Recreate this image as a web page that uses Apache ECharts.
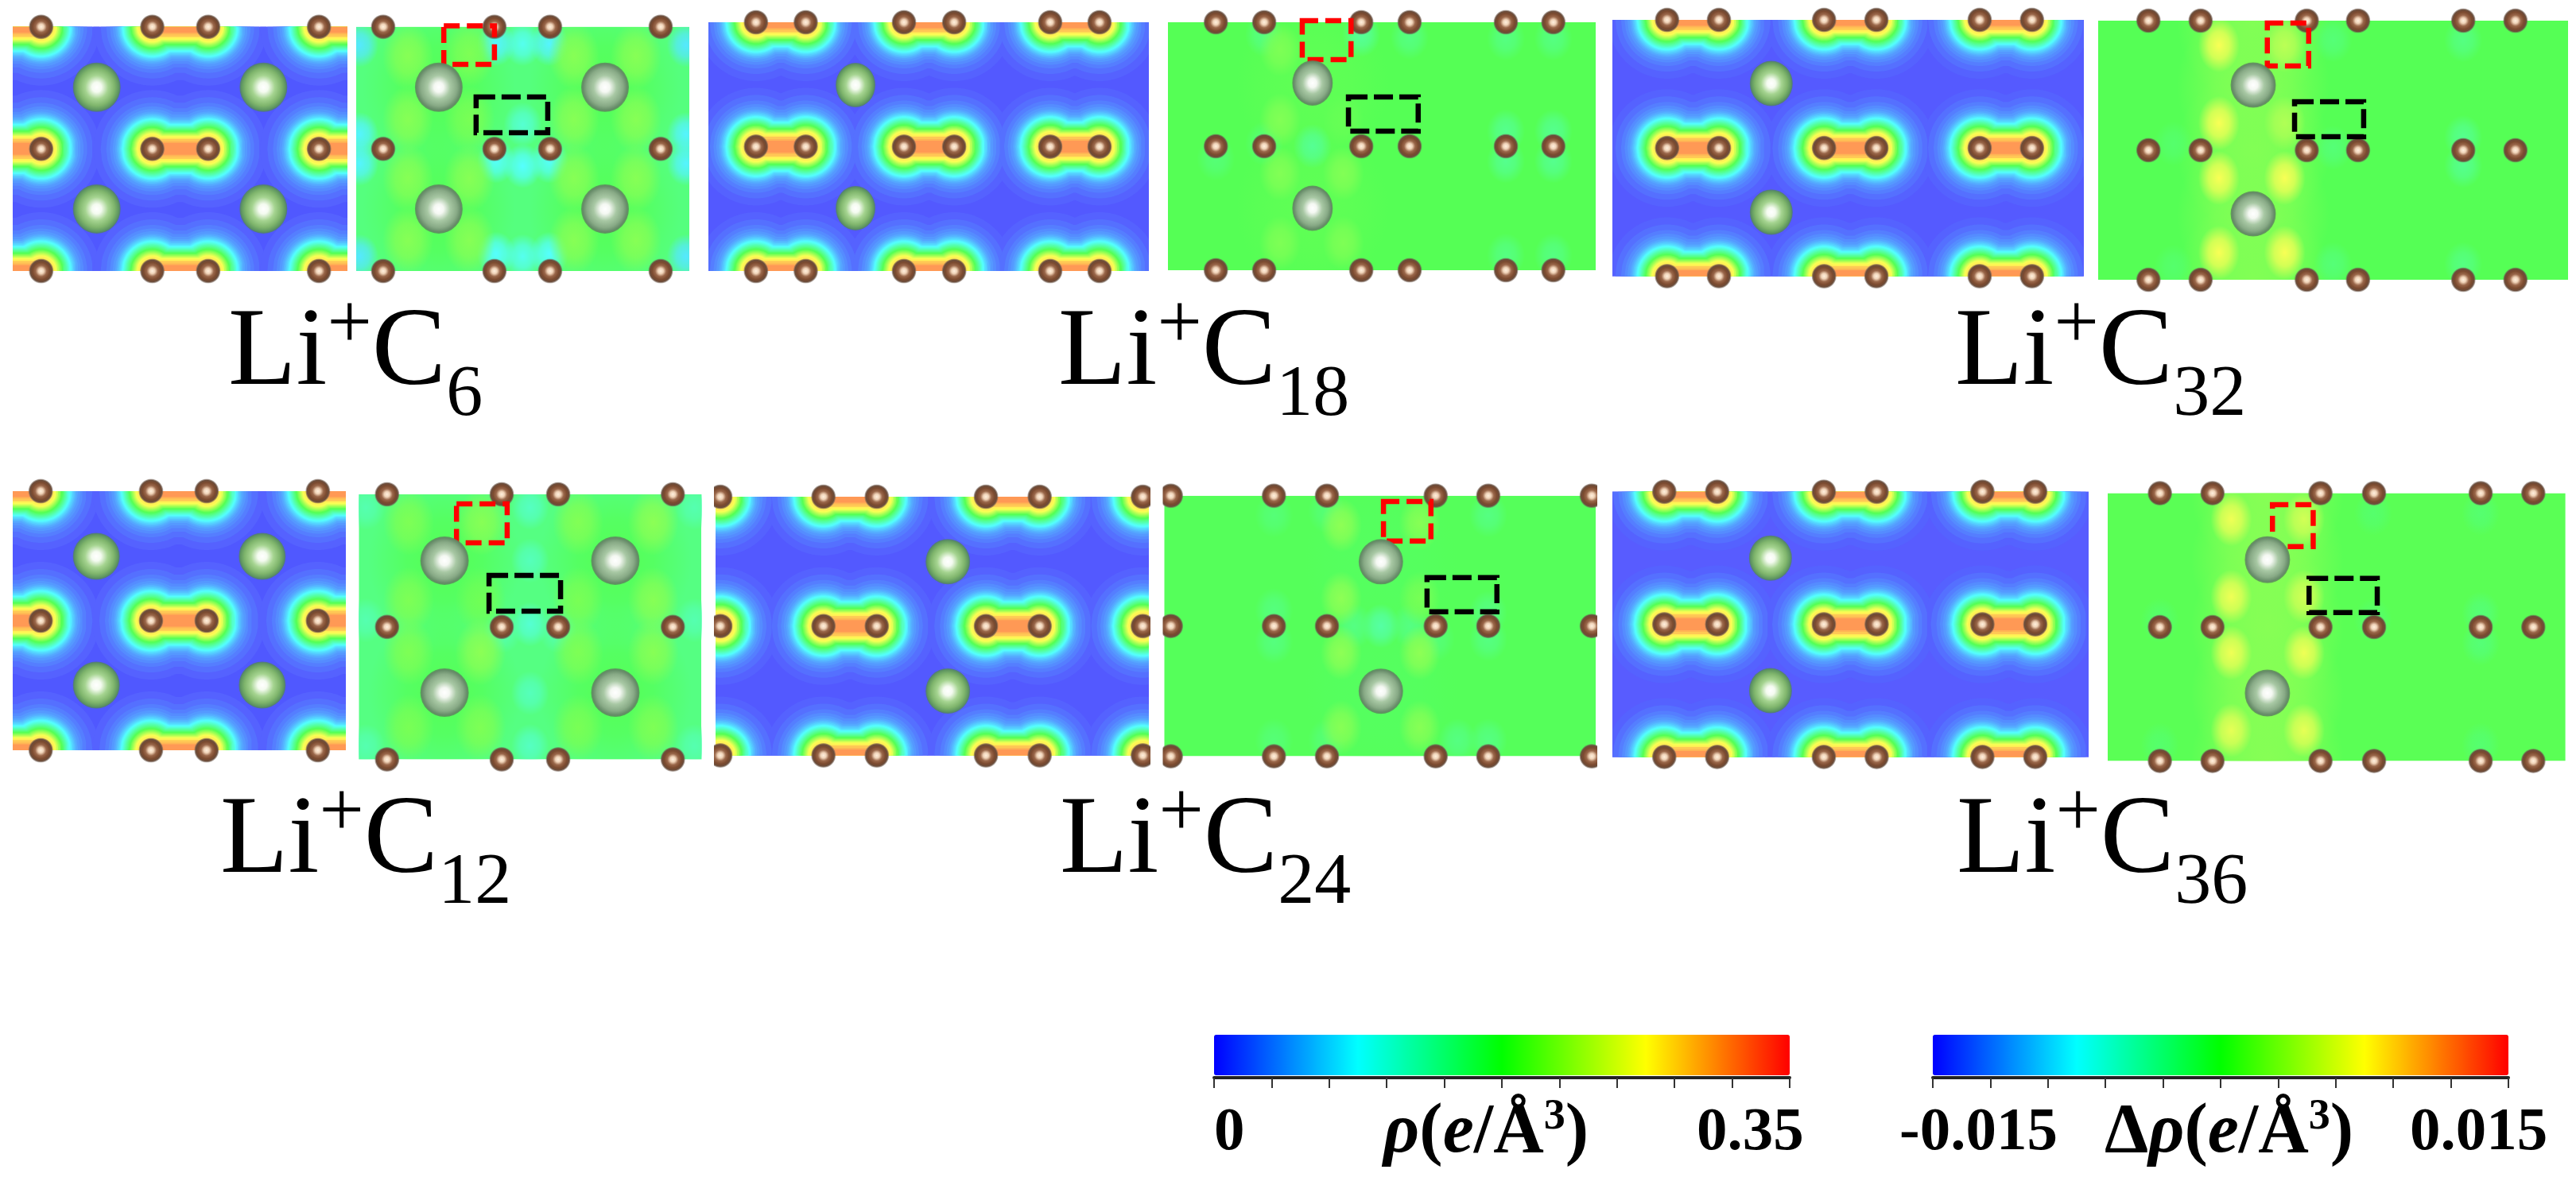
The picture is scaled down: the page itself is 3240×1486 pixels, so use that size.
<!DOCTYPE html>
<html>
<head>
<meta charset="utf-8">
<title>Li+Cx charge density</title>
<script src="https://cdn.jsdelivr.net/npm/echarts@6/dist/echarts.min.js"></script>
<style>
  html, body { margin: 0; padding: 0; background: #fff; }
  #main { width: 3240px; height: 1486px; }
</style>
</head>
<body>
<div id="main"></div>
<script>
// x axis of every panel is percent of the panel width, y axis counts graphene layers (0, 1, 2)
const carbonRows = [2, 1, 0]

// rho levels (e/A^3) drawn as contours around each C-C bond
const rhoLevels = [0.007, 0.014, 0.021, 0.028, 0.035, 0.042, 0.049, 0.056, 0.063, 0.07, 0.077, 0.084, 0.091, 0.098, 0.105, 0.112, 0.119, 0.126, 0.133, 0.14, 0.147, 0.154, 0.161, 0.168, 0.175, 0.1855, 0.196, 0.2065, 0.217, 0.2275, 0.238, 0.2485, 0.259, 0.2695, 0.28, 0.2905, 0.301, 0.315]

const rhoCarbonC6 = [8.5, 41.7, 58.4, 91.5]
const rhoBondsC6 = [[-8.2, 8.5], [41.7, 58.4], [91.5, 108.2]]
const rhoLiC6 = [[25.1, 1.505], [74.9, 1.505], [25.1, 0.508], [74.9, 0.508]]

const rhoCarbonC18 = [10.8, 22.1, 44.4, 55.8, 77.6, 88.8]
const rhoBondsC18 = [[10.8, 22.1], [44.4, 55.8], [77.6, 88.8]]
const rhoLiC18 = [[33.4, 1.495], [33.4, 0.505]]

const rhoCarbonC32 = [11.6, 22.6, 44.9, 56.0, 77.9, 89.0]
const rhoBondsC32 = [[11.6, 22.6], [44.9, 56.0], [77.9, 89.0]]
const rhoLiC32 = [[33.7, 1.504], [33.7, 0.5]]

const rhoCarbonC12 = [8.4, 41.5, 58.2, 91.6]
const rhoBondsC12 = [[-8.2, 8.4], [41.5, 58.2], [91.6, 108.2]]
const rhoLiC12 = [[25.1, 1.497], [74.9, 1.497], [25.1, 0.503], [74.9, 0.503]]

const rhoCarbonC24 = [1.1, 24.9, 37.2, 62.4, 74.8, 98.6]
const rhoBondsC24 = [[-11.2, 1.1], [24.9, 37.2], [62.4, 74.8], [98.6, 110.9]]
const rhoLiC24 = [[53.6, 1.498], [53.6, 0.498]]

const rhoCarbonC36 = [10.9, 22.0, 44.4, 55.5, 77.7, 88.8]
const rhoBondsC36 = [[10.9, 22.0], [44.4, 55.5], [77.7, 88.8]]
const rhoLiC36 = [[33.2, 1.5], [33.2, 0.5]]

// delta rho: [x, y, value]
const deltaCarbonC6 = [8.1, 41.5, 58.2, 91.4]
const deltaLiC6 = [[24.8, 1.505], [74.7, 1.505], [24.8, 0.508], [74.7, 0.508]]
const deltaBandsC6 = [[24.8, 1.5, 0], [74.7, 1.5, 0], [24.8, 0.5, 0], [74.7, 0.5, 0]]
const deltaHolesC6 = [[50, 1.86, -0.0068], [58, 1.86, -0.008], [42, 1.86, -0.008], [1, 1.85, -0.0085], [99, 1.85, -0.0085], [1, 1.12, -0.008], [1, 0.88, -0.008], [99, 1.12, -0.008], [99, 0.88, -0.008], [50, 0.86, -0.0075], [42, 0.9, -0.0072], [58, 0.9, -0.0072], [50, 0.12, -0.0068], [42, 0.14, -0.0075], [58, 0.14, -0.0075], [1, 0.12, -0.0085], [99, 0.12, -0.0085], [50, 1.2, -0.0055]]
const deltaLobesC6 = [[15.5, 1.76, 0.0022], [34, 1.78, 0.0018], [15.5, 1.24, 0.0022], [34, 1.24, 0.0016], [65.4, 1.76, 0.0022], [84, 1.76, 0.0022], [65.4, 1.24, 0.0022], [84, 1.24, 0.0022], [15.5, 0.76, 0.0022], [34, 0.76, 0.0022], [15.5, 0.25, 0.0022], [34, 0.25, 0.0022], [65.4, 0.76, 0.0022], [84, 0.76, 0.0022], [65.4, 0.25, 0.0022], [84, 0.25, 0.0022]]

const deltaCarbonC18 = [11.2, 22.5, 45.2, 56.5, 79.0, 90.1]
const deltaLiC18 = [[33.8, 1.51], [33.8, 0.5]]
const deltaBandsC18 = [[33.8, 1.5, 0.0005], [33.8, 0.5, 0.0005]]
const deltaHolesC18 = [[33.8, 1, -0.0028], [79, 1.12, -0.0025], [90.1, 1.12, -0.0025], [79, 0.88, -0.0025], [90.1, 0.88, -0.0025], [79, 1.87, -0.002], [90.1, 1.87, -0.002], [79, 0.12, -0.002], [90.1, 0.12, -0.002], [45.2, 1.9, -0.003], [56.5, 1.88, -0.002], [22.5, 1.9, -0.002], [22.5, 1.02, -0.0015], [11.2, 0.9, -0.0015]]
const deltaLobesC18 = [[26.2, 1.78, 0.0018], [26.2, 1.21, 0.002], [41, 1.21, 0.0008], [26.2, 0.78, 0.002], [41, 0.78, 0.002], [26.2, 0.22, 0.0018], [41, 0.22, 0.0018]]

const deltaCarbonC32 = [10.7, 21.8, 44.4, 55.3, 77.7, 88.8]
const deltaLiC32 = [[33.0, 1.503], [33.0, 0.509]]
const deltaBandsC32 = [[33, 2, 0.002], [33, 1.5, 0.002], [33, 1, 0.002], [33, 0.5, 0.002], [33, 0, 0.002]]
const deltaHolesC32 = [[77.7, 1.85, -0.002], [77.7, 1.1, -0.0025], [77.7, 0.88, -0.0025], [77.7, 0.12, -0.002], [50, 1.85, -0.0015], [50, 1.02, -0.0015], [50, 0.12, -0.0015], [16, 1.05, -0.001], [16, 0.1, -0.001]]
const deltaLobesC32 = [[25.7, 1.81, 0.0072], [39.7, 1.81, 0.0045], [25.7, 1.21, 0.0072], [39.7, 1.21, 0.004], [25.7, 0.785, 0.0072], [39.7, 0.785, 0.0072], [25.7, 0.21, 0.0072], [39.7, 0.21, 0.0072]]

const deltaCarbonC12 = [8.2, 41.7, 58.2, 91.7]
const deltaLiC12 = [[25, 1.5], [74.9, 1.5], [25, 0.504], [74.9, 0.504]]
const deltaBandsC12 = [[25, 1.5, 0], [74.9, 1.5, 0], [25, 0.5, 0], [74.9, 0.5, 0]]
const deltaHolesC12 = [[50, 1.9, -0.0048], [50, 1.5, -0.0045], [50, 1.02, -0.0055], [50, 0.5, -0.0045], [50, 0.1, -0.0048], [42, 0.97, -0.0038], [58, 0.97, -0.0038], [2, 1.9, -0.004], [98, 1.9, -0.004], [2, 1.05, -0.004], [98, 1.05, -0.004], [2, 0.1, -0.004], [98, 0.1, -0.004]]
const deltaLobesC12 = [[14.5, 1.79, 0.0018], [35.9, 1.79, 0.0022], [14.5, 1.2, 0.0018], [35.5, 1.2, 0.0012], [64, 1.79, 0.002], [86, 1.79, 0.0024], [64, 1.2, 0.0016], [86, 1.2, 0.0022], [14.5, 0.81, 0.0018], [35.5, 0.81, 0.0024], [14.5, 0.24, 0.0016], [35.5, 0.24, 0.0018], [64, 0.81, 0.0018], [86, 0.81, 0.0022], [64, 0.24, 0.0016], [86, 0.24, 0.0018]]

const deltaCarbonC24 = [1.5, 25.4, 37.7, 62.9, 75.1, 99.1]
const deltaLiC24 = [[50.2, 1.493], [50.2, 0.5]]
const deltaBandsC24 = [[50.2, 1.5, -0.0005], [50.2, 0.5, -0.0005]]
const deltaHolesC24 = [[50.2, 1, -0.0035], [44, 1, -0.002], [57, 1, -0.002], [25.4, 0.88, -0.0018], [25.4, 1.12, -0.0018], [25.4, 1.85, -0.0015], [25.4, 0.12, -0.0015], [75.1, 1.85, -0.002], [75.1, 1.1, -0.002], [75.1, 0.9, -0.002], [75.1, 0.12, -0.002], [37.7, 1.88, -0.0015], [37.7, 0.12, -0.0015], [62.9, 0.9, -0.0015], [68, 0.12, -0.002]]
const deltaLobesC24 = [[41, 1.773, 0.0025], [59.2, 1.79, 0.0022], [41, 1.213, 0.0025], [59.2, 1.213, 0.0015], [41, 0.793, 0.0025], [59.2, 0.793, 0.0025], [41, 0.223, 0.0022], [59.2, 0.223, 0.0022]]

const deltaCarbonC36 = [11.4, 22.9, 46.5, 58.2, 81.5, 93.0]
const deltaLiC36 = [[34.9, 1.504], [34.9, 0.507]]
const deltaBandsC36 = [[34.9, 2, 0.0022], [34.9, 1.5, 0.0022], [34.9, 1, 0.0022], [34.9, 0.5, 0.0022], [34.9, 0, 0.0022]]
const deltaHolesC36 = [[81.5, 1.85, -0.0012], [81.5, 1.1, -0.0015], [81.5, 0.88, -0.0015], [81.5, 0.12, -0.0012], [58, 1.85, -0.001], [58, 1.05, -0.001], [11.4, 1.05, -0.001], [11.4, 0.12, -0.001]]
const deltaLobesC36 = [[27, 1.806, 0.0068], [42.9, 1.806, 0.0055], [27, 1.227, 0.0068], [42.9, 1.227, 0.0055], [27, 0.807, 0.0068], [42.9, 0.807, 0.0068], [27, 0.228, 0.0064], [42.9, 0.228, 0.0064]]

// dashed boxes: [x1, y1, x2, y2]
const redBoxes = [[26.3, 2.008, 41.5, 1.692], [31.4, 2.013, 42.8, 1.699], [36, 1.982, 44.8, 1.65], [28.5, 1.928, 43.3, 1.634], [50.8, 1.955, 61.8, 1.652], [36, 1.914, 44.9, 1.601]]
const blackBoxes = [[36, 1.425, 57.5, 1.132], [42.2, 1.397, 58.5, 1.122], [41.8, 1.374, 56.5, 1.104], [38, 1.388, 58.9, 1.119], [60.9, 1.371, 77.1, 1.109], [44, 1.364, 58.9, 1.109]]

// background delta rho of each panel
const deltaBase = [-0.0018, 0, 0, -0.002, -0.0002, 0.0002]

const systemSubs = ['6', '18', '32', '12', '24', '36']
const rhoRange = [0, 0.35]
const deltaRange = [-0.015, 0.015]
const rhoTickLabels = ['0', '0.35']
const deltaTickLabels = ['-0.015', '0.015']
const jetColors = ['#0000ff', '#00ffff', '#00ff00', '#ffff00', '#ff0000']

// ---- layout / styles ----
const rhoRects = [[16, 33.7, 437, 341], [891, 28, 1445, 341], [2028, 25, 2621, 347.5], [16, 618, 435, 944], [900, 625, 1445, 950.5], [2028, 618.7, 2627, 952.4]]
const deltaRects = [[448, 33.7, 867, 341], [1469, 28, 2007, 340], [2639, 26, 3230, 352], [451.5, 622, 882, 955.5], [1464.5, 623.7, 2007, 951.6], [2651, 620.6, 3226.6, 957.4]]
const rhoFloor = ['#5058ff', '#5359ff', '#555aff', '#5058ff', '#5359ff', '#585cff']
const rhoRadius = [74, 65, 58, 53.5, 50, 47, 45, 43.4, 42, 40.6, 39.5, 38.5, 37.5, 36.5, 35.6, 34.8, 34, 33.2, 32.4, 31.6, 30.8, 30, 29.2, 28.4, 27.6, 26.6, 25.6, 24.6, 23.6, 22.6, 21.6, 20.6, 19.6, 18.2, 15.5, 12.5, 9.5, 7.5]
const liSize = [[60, 62], [50, 56], [54, 57], [59, 59], [56, 57], [54, 57]]
const liSizeDelta = [[60, 62], [51, 57], [57, 57], [61, 61], [56, 57], [57, 59]]
// band, lobe, hole, wide lobe
const blobSize = [[96, 105], [26, 34], [24, 28], [32, 42]]
const labelPos = [[287, 446], [1331, 446], [2459, 446], [277, 1060], [1333, 1060], [2461, 1060]]
const serif = '"Liberation Serif", "Times New Roman", serif'

const wash = (c, a) => {
  const p = echarts.color.parse(c)
  const m = v => Math.round(v + (255 - v) / 3)
  return 'rgba(' + m(p[0]) + ',' + m(p[1]) + ',' + m(p[2]) + ',' + (a === undefined ? 1 : a) + ')'
}

const carbonFill = { type: 'radial', x: 0.5, y: 0.5, r: 0.5, colorStops: [
  { offset: 0, color: '#fff0de' }, { offset: 0.22, color: '#f0d3b8' }, { offset: 0.45, color: '#9a674a' },
  { offset: 0.7, color: '#7b4a2f' }, { offset: 0.88, color: '#6b4c3a' }, { offset: 1, color: 'rgba(110,95,85,0.35)' }
] }
const liFillRho = { type: 'radial', x: 0.5, y: 0.5, r: 0.5, colorStops: [
  { offset: 0, color: '#ffffff' }, { offset: 0.2, color: '#f4fbf0' }, { offset: 0.48, color: '#a5d490' },
  { offset: 0.75, color: '#7fb56c' }, { offset: 0.93, color: '#5d9460' }, { offset: 1, color: 'rgba(80,125,90,0.7)' }
] }
const liFillDelta = { type: 'radial', x: 0.5, y: 0.5, r: 0.5, colorStops: [
  { offset: 0, color: '#ffffff' }, { offset: 0.2, color: '#f4f8f2' }, { offset: 0.48, color: '#a8c8a4' },
  { offset: 0.76, color: '#88aa86' }, { offset: 0.93, color: '#668a68' }, { offset: 1, color: 'rgba(90,130,90,0.75)' }
] }

// contour around one bond: two circles joined by a slightly narrower band
function renderContour (params, api) {
  const p1 = api.coord([api.value(0), api.value(2)])
  const p2 = api.coord([api.value(1), api.value(2)])
  const r = rhoRadius[api.value(4)]
  const waist = r > 14 ? r - Math.min(7, r * 0.18) : r
  const top = []
  const bottom = []
  const from = p1[0] - r
  const to = p2[0] + r
  for (let x = from; x <= to + 0.01; x += 1.5) {
    const d1 = Math.abs(x - p1[0])
    const d2 = Math.abs(x - p2[0])
    const c1 = d1 < r ? Math.sqrt(r * r - d1 * d1) : 0
    const c2 = d2 < r ? Math.sqrt(r * r - d2 * d2) : 0
    const h = Math.max(c1, c2, x > p1[0] && x < p2[0] ? waist : 0)
    top.push([x, p1[1] - h])
    bottom.unshift([x, p1[1] + h])
  }
  return { type: 'polygon', shape: { points: top.concat(bottom) }, style: { fill: wash(api.visual('color')) } }
}

// soft delta rho patch, the first item of a series is the panel background
function renderDelta (params, api) {
  const fill = wash(api.visual('color'))
  if (params.dataIndex === 0) {
    const cs = params.coordSys
    return { type: 'rect', shape: { x: cs.x, y: cs.y, width: cs.width, height: cs.height }, style: { fill: fill } }
  }
  const p = api.coord([api.value(0), api.value(1)])
  const size = blobSize[api.value(3)]
  const c = api.visual('color')
  return {
    type: 'circle',
    x: p[0],
    y: p[1],
    scaleX: size[0] / 100,
    scaleY: size[1] / 100,
    shape: { cx: 0, cy: 0, r: 100 },
    style: { fill: { type: 'radial', x: 0.5, y: 0.5, r: 0.5, colorStops: [
      { offset: 0, color: wash(c, 1) }, { offset: 0.5, color: wash(c, 0.7) }, { offset: 1, color: wash(c, 0) }
    ] } }
  }
}

// carbon atoms stick out above and below a panel but stop at its sides
function renderCarbon (params, api) {
  const p = api.coord([api.value(0), api.value(1)])
  const cs = params.coordSys
  return {
    type: 'circle',
    shape: { cx: p[0], cy: p[1], r: 15.5 },
    style: { fill: carbonFill },
    clipPath: { type: 'rect', shape: { x: cs.x - 2, y: 0, width: cs.width + 4, height: 1486 } }
  }
}

function renderBox (params, api) {
  const a = api.coord([api.value(0), api.value(1)])
  const b = api.coord([api.value(2), api.value(3)])
  const red = api.value(4) === 0
  return {
    type: 'rect',
    shape: { x: a[0], y: a[1], width: b[0] - a[0], height: b[1] - a[1] },
    style: { fill: 'none', stroke: red ? '#ff0000' : '#000000', lineWidth: 6.5, lineDash: red ? [20, 9] : [24, 8] }
  }
}

const rhoData = [
  [rhoCarbonC6, rhoBondsC6, rhoLiC6], [rhoCarbonC18, rhoBondsC18, rhoLiC18], [rhoCarbonC32, rhoBondsC32, rhoLiC32],
  [rhoCarbonC12, rhoBondsC12, rhoLiC12], [rhoCarbonC24, rhoBondsC24, rhoLiC24], [rhoCarbonC36, rhoBondsC36, rhoLiC36]
]
const deltaData = [
  [deltaCarbonC6, deltaLiC6, deltaBandsC6, deltaLobesC6, deltaHolesC6, 3], [deltaCarbonC18, deltaLiC18, deltaBandsC18, deltaLobesC18, deltaHolesC18, 1],
  [deltaCarbonC32, deltaLiC32, deltaBandsC32, deltaLobesC32, deltaHolesC32, 1], [deltaCarbonC12, deltaLiC12, deltaBandsC12, deltaLobesC12, deltaHolesC12, 3],
  [deltaCarbonC24, deltaLiC24, deltaBandsC24, deltaLobesC24, deltaHolesC24, 1], [deltaCarbonC36, deltaLiC36, deltaBandsC36, deltaLobesC36, deltaHolesC36, 1]
]

const grids = []
const xAxes = []
const yAxes = []
const series = []
const rhoSeries = []
const deltaSeries = []

function addGrid (rect, bg) {
  grids.push({ left: rect[0], top: rect[1], width: rect[2] - rect[0], height: rect[3] - rect[1], show: true, backgroundColor: bg, borderWidth: 0 })
  xAxes.push({ type: 'value', gridIndex: grids.length - 1, min: 0, max: 100, show: false })
  yAxes.push({ type: 'value', gridIndex: grids.length - 1, min: 0, max: 2, show: false })
  return grids.length - 1
}

const carbonPoints = xs => carbonRows.flatMap(y => xs.map(x => [x, y]))

function addAtoms (g, carbon, li, size, fill) {
  series.push({ type: 'custom', coordinateSystem: 'cartesian2d', xAxisIndex: g, yAxisIndex: g, silent: true, renderItem: renderCarbon, data: carbonPoints(carbon) })
  series.push({ type: 'scatter', xAxisIndex: g, yAxisIndex: g, silent: true, clip: false, symbolSize: size, itemStyle: { color: fill, opacity: 1 }, data: li })
}

rhoData.forEach((d, i) => {
  const g = addGrid(rhoRects[i], rhoFloor[i])
  const contours = []
  rhoLevels.forEach((v, k) => {
    carbonRows.forEach(y => d[1].forEach(b => contours.push([b[0], b[1], y, v, k])))
  })
  rhoSeries.push(series.length)
  series.push({ type: 'custom', coordinateSystem: 'cartesian2d', xAxisIndex: g, yAxisIndex: g, silent: true, clip: true, renderItem: renderContour, data: contours })
  addAtoms(g, d[0], d[2], liSize[i], liFillRho)
})

deltaData.forEach((d, i) => {
  const g = addGrid(deltaRects[i], 'transparent')
  const patches = [[50, 1, deltaBase[i], 0]]
  d[2].forEach(b => patches.push([b[0], b[1], b[2], 0]))
  d[4].forEach(b => patches.push([b[0], b[1], b[2], 2]))
  d[3].forEach(b => patches.push([b[0], b[1], b[2], d[5]]))
  deltaSeries.push(series.length)
  series.push({ type: 'custom', coordinateSystem: 'cartesian2d', xAxisIndex: g, yAxisIndex: g, silent: true, clip: true, renderItem: renderDelta, data: patches })
  addAtoms(g, d[0], d[1], liSizeDelta[i], liFillDelta)
  series.push({
    type: 'custom', coordinateSystem: 'cartesian2d', xAxisIndex: g, yAxisIndex: g, silent: true, renderItem: renderBox,
    data: [blackBoxes[i].concat(1), redBoxes[i].concat(0)]
  })
})

// colour bar axes
function addBarAxis (left, width, range, interval) {
  grids.push({ left: left, top: 1355, width: width, height: 1, show: false })
  const idx = grids.length - 1
  xAxes.push({
    type: 'value', gridIndex: idx, min: range[0], max: range[1], interval: interval, position: 'bottom',
    axisLine: { show: true, lineStyle: { color: '#222', width: 4 } },
    axisTick: { show: true, length: 13, inside: false, lineStyle: { color: '#333', width: 2 } },
    axisLabel: { show: false }, splitLine: { show: false }
  })
  yAxes.push({ type: 'value', gridIndex: idx, show: false })
}
addBarAxis(1527, 724, rhoRange, 0.035)
addBarAxis(2431, 724, deltaRange, 0.003)

function barMap (left, range, indices, dim) {
  return {
    type: 'continuous', orient: 'horizontal', left: left, top: 1302, padding: 0,
    itemWidth: 51, itemHeight: 724, min: range[0], max: range[1], calculable: false, showLabel: false,
    hoverLink: false, seriesIndex: indices, dimension: dim, inRange: { color: jetColors }
  }
}

// text
const systemRich = {
  m: { fontFamily: serif, fontSize: 140, lineHeight: 240, color: '#000' },
  p: { fontFamily: serif, fontSize: 100, height: 172, verticalAlign: 'top', color: '#000' },
  s: { fontFamily: serif, fontSize: 92, height: 136, verticalAlign: 'bottom', color: '#000' }
}
const unitRich = {
  i: { fontFamily: serif, fontSize: 88, fontWeight: 'bold', fontStyle: 'italic', lineHeight: 160, color: '#000' },
  n: { fontFamily: serif, fontSize: 88, fontWeight: 'bold', lineHeight: 160, color: '#000' },
  u: { fontFamily: serif, fontSize: 54, fontWeight: 'bold', height: 120, verticalAlign: 'top', color: '#000' }
}
const texts = systemSubs.map((s, i) => ({
  type: 'text', x: labelPos[i][0], y: labelPos[i][1], silent: true,
  style: { text: '{m|Li}{p|+}{m|C}{s|' + s + '}', rich: systemRich, align: 'left', verticalAlign: 'middle', fill: '#000' }
}))
const tickText = (t, x) => ({
  type: 'text', x: x, y: 1426, silent: true,
  style: { text: t, font: 'bold 77px ' + serif, align: 'left', verticalAlign: 'middle', fill: '#000' }
})
texts.push(tickText(rhoTickLabels[0], 1527), tickText(rhoTickLabels[1], 2134), tickText(deltaTickLabels[0], 2389), tickText(deltaTickLabels[1], 3031))
texts.push({ type: 'text', x: 1740, y: 1426, silent: true, style: { text: '{i|ρ}{n|(}{i|e}{n|/Å}{u|3}{n|)}', rich: unitRich, align: 'left', verticalAlign: 'middle' } })
texts.push({ type: 'text', x: 2647, y: 1426, silent: true, style: { text: '{n|Δ}{i|ρ}{n|(}{i|e}{n|/Å}{u|3}{n|)}', rich: unitRich, align: 'left', verticalAlign: 'middle' } })

const chart = echarts.init(document.getElementById('main'), null, { renderer: 'canvas' })
chart.setOption({
  animation: false,
  backgroundColor: '#ffffff',
  grid: grids,
  xAxis: xAxes,
  yAxis: yAxes,
  visualMap: [barMap(1527, rhoRange, rhoSeries, 3), barMap(2431, deltaRange, deltaSeries, 2)],
  graphic: { elements: texts },
  series: series
})
</script>
</body>
</html>
